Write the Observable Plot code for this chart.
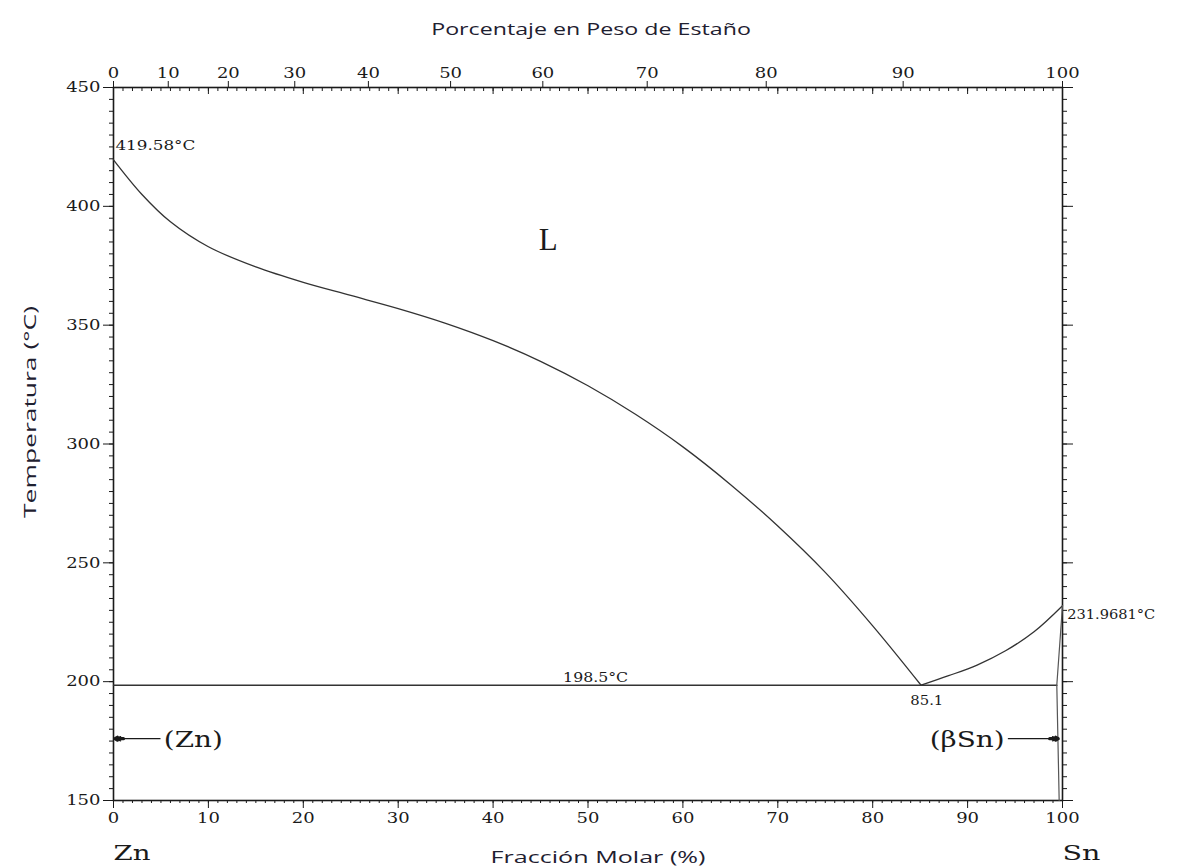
<!DOCTYPE html>
<html>
<head>
<meta charset="utf-8">
<script src="https://cdn.jsdelivr.net/npm/d3@7"></script>
<script src="https://cdn.jsdelivr.net/npm/@observablehq/plot@0.6"></script>
<style>
  html, body { margin: 0; padding: 0; background: #fff; }
  #chart svg { display: block; }
</style>
</head>
<body>
<div id="chart"></div>
<script>
// ---- data ----
// Liquidus, Zn-rich side (mol % Sn, °C)
const liqZnX = [0, 3, 6, 10, 15, 20, 25, 30, 35, 40, 45, 50, 55, 60, 65, 70, 75, 80, 85.1];
const liqZnT = [419.58, 405, 393.5, 383, 374.5, 368, 362.5, 357, 350.8, 343.5, 334.8, 324.5, 312.5, 298.8, 283, 265.5, 246, 223.5, 198.5];
// Liquidus, Sn-rich side
const liqSnX = [85.1, 88, 91, 94, 97, 100];
const liqSnT = [198.5, 202.5, 207, 213, 221, 231.9681];
// Eutectic isotherm
const eutX = [0, 99.4];
const eutT = [198.5, 198.5];
// (βSn) solidus and solvus
const solidusX = [100, 99.4];
const solidusT = [231.9681, 198.5];
const solvusX = [99.4, 99.65];
const solvusT = [198.5, 150];

// Axis ticks
const xMajor = [0, 10, 20, 30, 40, 50, 60, 70, 80, 90, 100];
const yMajor = [150, 200, 250, 300, 350, 400, 450];
// top axis: weight % Sn, placed at equivalent mol % positions
const wtLabels = [0, 10, 20, 30, 40, 50, 60, 70, 80, 90, 100];
const wtPos = [0, 5.77, 12.10, 19.10, 26.86, 35.52, 45.24, 56.24, 68.78, 83.21, 100];

// Annotations (data units)
const notes = [
  {x: 0.2, T: 423.5, text: "419.58°C", anchor: "start"},
  {x: 50.8, T: 198.5, text: "198.5°C", anchor: "middle"},
  {x: 85.7, T: 189, text: "85.1", anchor: "middle"},
  {x: 100.5, T: 226.5, text: "231.9681°C", anchor: "start"}
];
const phaseL = [{x: 45.8, T: 386, text: "L"}];
const phases = [
  {x: 5.3, T: 175.5, text: "(Zn)", anchor: "start"},
  {x: 93.9, T: 175.5, text: "(βSn)", anchor: "end"}
];
const arrows = [
  {x1: 4.9, x2: 0.15, T: 176, dir: -1},
  {x1: 94.3, x2: 99.55, T: 176, dir: 1}
];

const pts = (xs, ts) => xs.map((x, i) => ({x, T: ts[i]}));
const serif = "DejaVu Serif, Liberation Serif, serif";
const sans = "Open Sans, Noto Sans, sans-serif";
const ink = "#1a1a1a";
const titleInk = "#1e2030";

const chart = Plot.plot({
  width: 1181,
  height: 867,
  marginLeft: 113,
  marginRight: 119,
  marginTop: 87,
  marginBottom: 67,
  style: {background: "#fff", color: ink},
  x: {domain: [0, 100]},
  y: {domain: [150, 450]},
  marks: [
    // minor ticks
    Plot.axisX({anchor: "bottom", ticks: d3.range(0, 101, 1), tickSize: 3, tickFormat: () => "", label: null, stroke: ink}),
    Plot.axisY({anchor: "left", ticks: d3.range(150, 451, 5), tickSize: 4, tickFormat: () => "", label: null, stroke: ink}),
    Plot.axisY({anchor: "right", ticks: d3.range(150, 451, 5), tickSize: 4, tickFormat: () => "", label: null, stroke: ink}),
    Plot.axisX({anchor: "top", ticks: d3.range(0, 101, 1), tickSize: -3, tickFormat: () => "", label: null, stroke: ink}),
    // major ticks + labels
    Plot.axisX({anchor: "bottom", ticks: xMajor, tickSize: 8, tickPadding: 4, label: null,
      fontFamily: serif, fontSize: 15, stroke: ink, fill: ink}),
    Plot.axisY({anchor: "left", ticks: yMajor, tickSize: 10, tickPadding: 3, label: null,
      fontFamily: serif, fontSize: 15, stroke: ink, fill: ink}),
    Plot.axisY({anchor: "right", ticks: yMajor, tickSize: 10, tickFormat: () => "", label: null, stroke: ink}),
    Plot.axisX({anchor: "top", ticks: wtPos, tickSize: 7, tickPadding: 3, label: null,
      tickFormat: d => String(wtLabels[wtPos.indexOf(d)]),
      fontFamily: serif, fontSize: 15, stroke: ink, fill: ink}),
    Plot.axisX({anchor: "top", ticks: xMajor, tickSize: -6, tickFormat: () => "", label: null, stroke: ink}),
    Plot.frame({stroke: ink, strokeWidth: 1.6}),
    // phase boundaries
    Plot.line(pts(liqZnX, liqZnT), {x: "x", y: "T", curve: "catmull-rom", stroke: "#333", strokeWidth: 1.3}),
    Plot.line(pts(liqSnX, liqSnT), {x: "x", y: "T", curve: "catmull-rom", stroke: "#333", strokeWidth: 1.3}),
    Plot.line(pts(eutX, eutT), {x: "x", y: "T", stroke: "#333", strokeWidth: 1.4}),
    Plot.line(pts(solidusX, solidusT), {x: "x", y: "T", stroke: "#555", strokeWidth: 1.2}),
    Plot.line(pts(solvusX, solvusT), {x: "x", y: "T", stroke: "#555", strokeWidth: 1.2}),
    // arrows (shaft + solid head)
    Plot.arrow(arrows, {x1: "x1", x2: "x2", y1: "T", y2: "T", stroke: ink, strokeWidth: 1.3, headLength: 7, headAngle: 40}),
    Plot.arrow(arrows, {x1: d => d.x2 - d.dir * 0.9, x2: "x2", y1: "T", y2: "T", stroke: ink, strokeWidth: 3.2, headLength: 4, headAngle: 60}),
    // annotations
    Plot.text(notes, {x: "x", y: "T", text: "text", textAnchor: "start", filter: d => d.anchor === "start",
      fontFamily: serif, fontSize: 13.5, fill: ink, lineAnchor: "bottom"}),
    Plot.text(notes, {x: "x", y: "T", text: "text", textAnchor: "middle", filter: d => d.anchor === "middle",
      fontFamily: serif, fontSize: 13.5, fill: ink, lineAnchor: "bottom", dy: -3}),
    Plot.text(phaseL, {x: "x", y: "T", text: "text", fontFamily: "Liberation Serif, serif", fontSize: 31, fill: ink}),
    Plot.text(phases, {x: "x", y: "T", text: "text", filter: d => d.anchor === "start",
      textAnchor: "start", fontFamily: serif, fontSize: 22, fill: ink}),
    Plot.text(phases, {x: "x", y: "T", text: "text", filter: d => d.anchor === "end",
      textAnchor: "end", fontFamily: serif, fontSize: 22, fill: ink}),
    // element labels
    Plot.text(["Zn"], {x: 0, frameAnchor: "bottom", lineAnchor: "middle", dy: 53, textAnchor: "start", fontFamily: serif, fontSize: 20, fill: ink}),
    Plot.text(["Sn"], {x: 100, frameAnchor: "bottom", lineAnchor: "middle", dy: 53, textAnchor: "start", fontFamily: serif, fontSize: 20, fill: ink}),
    // axis titles
    Plot.text(["Fracción Molar (%)"], {frameAnchor: "bottom", lineAnchor: "middle", textAnchor: "middle", dy: 57, dx: 10, fontFamily: sans, fontSize: 16, fill: titleInk}),
    Plot.text(["Porcentaje en Peso de Estaño"], {frameAnchor: "top", lineAnchor: "middle", textAnchor: "middle", dy: -58, dx: 3, fontFamily: sans, fontSize: 16, fill: titleInk}),
    Plot.text(["Temperatura (°C)"], {frameAnchor: "left", lineAnchor: "middle", textAnchor: "middle", dx: -83, dy: -32, rotate: -90, fontFamily: sans, fontSize: 16, fill: titleInk})
  ]
});
document.getElementById("chart").appendChild(chart);

// The reference image is horizontally widened: stretch text glyphs to match.
const targetWidth = {
  "Fracción Molar (%)": 215,
  "Porcentaje en Peso de Estaño": 320,
  "Temperatura (°C)": 212,
  "419.58°C": 80,
  "198.5°C": 65,
  "85.1": 33,
  "231.9681°C": 88,
  "(Zn)": 59,
  "(βSn)": 75,
  "Zn": 37,
  "Sn": 38
};
chart.querySelectorAll("text").forEach(t => {
  const s = t.textContent;
  if (!s) return;
  const w = t.getComputedTextLength();
  if (!(w > 0)) return;
  let k = 1.2; // numeric tick labels
  if (Object.prototype.hasOwnProperty.call(targetWidth, s)) k = targetWidth[s] / w;
  else if (!/^\d+$/.test(s)) return;
  const tr = t.getAttribute("transform") || "";
  t.setAttribute("transform", (tr + ` scale(${k.toFixed(3)},1)`).trim());
});
</script>
</body>
</html>
